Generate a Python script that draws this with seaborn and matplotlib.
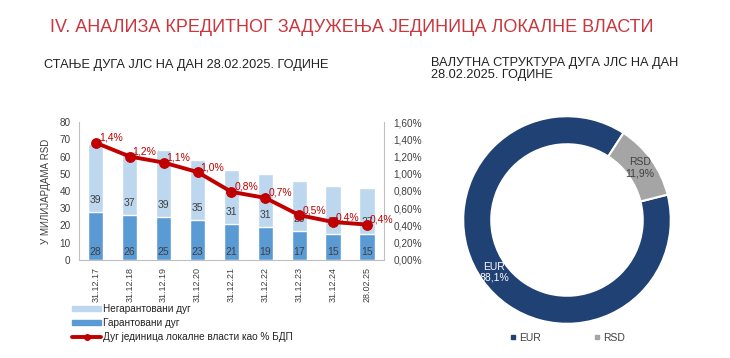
import numpy as np
import pandas as pd
import matplotlib
matplotlib.use("Agg")
import matplotlib.pyplot as plt
import seaborn as sns
from matplotlib.lines import Line2D
from matplotlib.patches import Patch

# podaci procitani sa grafika
dates = ["31.12.17", "31.12.18", "31.12.19", "31.12.20", "31.12.21",
         "31.12.22", "31.12.23", "31.12.24", "28.02.25"]
garant = [28, 26, 25, 23, 21, 19, 17, 15, 15]
negarant = [39, 37, 39, 35, 31, 31, 29, 28, 27]
dug_bdp = [1.36, 1.20, 1.13, 1.02, 0.79, 0.72, 0.52, 0.44, 0.41]

valute = ["EUR", "RSD"]
udeo = [88.1, 11.9]

light = "#BDD7EE"
dark = "#5B9BD5"
red = "#C00000"
navy = "#1F4173"
grey = "#A5A5A5"
txt = "#404040"

sns.set_theme(style="white")
plt.rcParams["font.family"] = ["Liberation Sans", "DejaVu Sans"]

df = pd.DataFrame({"datum": dates, "garant": garant, "negarant": negarant})
df["ukupno"] = df["garant"] + df["negarant"]

fig = plt.figure(figsize=(7.3, 3.58), dpi=100)

# naslovi
fig.text(50 / 730, 1 - 27 / 358, "IV. АНАЛИЗА КРЕДИТНОГ ЗАДУЖЕЊА ЈЕДИНИЦА ЛОКАЛНЕ ВЛАСТИ",
         color="#C9363E", fontsize=13, va="center")
fig.text(44 / 730, 1 - 65 / 358, "СТАЊЕ ДУГА ЈЛС НА ДАН 28.02.2025. ГОДИНЕ",
         color="#222222", fontsize=9.2, va="center")
fig.text(431 / 730, 1 - 69 / 358, "ВАЛУТНА СТРУКТУРА ДУГА ЈЛС НА ДАН\n28.02.2025. ГОДИНЕ",
         color="#222222", fontsize=9.2, va="center", linespacing=0.9)

# stubici
ax = fig.add_axes([0.108, 0.274, 0.418, 0.385])
sns.barplot(data=df, x="datum", y="ukupno", color=light, width=0.45,
            saturation=1, ax=ax)
sns.barplot(data=df, x="datum", y="garant", color=dark, width=0.45,
            saturation=1, ax=ax)

for i, (g, n) in enumerate(zip(garant, negarant)):
    ax.annotate(str(g), (i, 0), xytext=(0, 8), textcoords="offset pixels",
                ha="center", va="center", fontsize=7.5, color=txt)
    ax.annotate(str(n), (i, g), xytext=(0, 12), textcoords="offset pixels",
                ha="center", va="center", fontsize=7.5, color=txt)

ax.set_ylim(0, 80)
ax.set_yticks(range(0, 81, 10))
ax.set_xlabel("")
ax.set_ylabel("У МИЛИЈАРДАМА RSD", fontsize=7, color=txt, labelpad=6)
ax.tick_params(axis="y", labelsize=7.2, labelcolor=txt, length=0, pad=6)
ax.tick_params(axis="x", labelsize=6.5, labelcolor=txt, rotation=90, length=0, pad=5)
for s in ["top", "right"]:
    ax.spines[s].set_visible(False)
for s in ["left", "bottom"]:
    ax.spines[s].set_color("#BFBFBF")
    ax.spines[s].set_linewidth(0.8)

# linija % BDP
ax2 = ax.twinx()
sns.lineplot(x=np.arange(len(dates)), y=dug_bdp, ax=ax2, color=red, lw=2.8,
             marker="o", markersize=7, markeredgecolor=red)
for i, v in enumerate(dug_bdp):
    ax2.annotate(f"{v:.1f}%".replace(".", ","), (i, v), xytext=(3, 5),
                 textcoords="offset pixels", ha="left", va="center",
                 fontsize=7.5, color=red)
ax2.set_ylim(0, 1.6)
ax2.set_yticks(np.arange(0, 1.61, 0.2))
ax2.set_yticklabels([f"{t:.2f}%".replace(".", ",") for t in np.arange(0, 1.61, 0.2)])
ax2.tick_params(axis="y", labelsize=7.2, labelcolor=txt, length=0, pad=7)
ax2.set_ylabel("")
for s in ["top", "left", "bottom"]:
    ax2.spines[s].set_visible(False)
ax2.spines["right"].set_color("#BFBFBF")
ax2.spines["right"].set_linewidth(0.8)
ax.set_xlim(-0.5, len(dates) - 0.5)

fig.legend(handles=[Patch(color=light, label="Негарантовани дуг"),
                    Patch(color=dark, label="Гарантовани дуг"),
                    Line2D([], [], color=red, lw=2.8, marker="o", markersize=4,
                           label="Дуг јединица локалне власти као % БДП")],
           loc="upper left", bbox_to_anchor=(72 / 730, 1 - 304 / 358),
           frameon=False, fontsize=7.2, handlelength=2.9, handleheight=0.5,
           labelspacing=0.4, handletextpad=0.2, borderaxespad=0, borderpad=0,
           labelcolor="#222222")

# krofna - valutna struktura
ax3 = fig.add_axes([(567 - 110) / 730, 1 - (220 + 110) / 358, 220 / 730, 220 / 358])
wedges, _ = ax3.pie(udeo, colors=[navy, grey], startangle=57, radius=1,
                    wedgeprops=dict(width=0.27, edgecolor="white", linewidth=1.5))
for w, lab, val, col in zip(wedges, valute, udeo, ["white", txt]):
    ang = np.deg2rad((w.theta1 + w.theta2) / 2)
    r = 1 - 0.27 / 2
    ax3.text(r * np.cos(ang), r * np.sin(ang), f"{lab}\n{val:.1f}%".replace(".", ","),
             ha="center", va="center", fontsize=7.5, color=col, linespacing=1.1)
ax3.set_xlim(-1.06, 1.06)
ax3.set_ylim(-1.06, 1.06)
ax3.set_aspect("equal")
ax3.axis("off")

fig.legend(handles=[Line2D([], [], marker="s", ls="", color=c, markersize=3.5, label=l)
                    for c, l in zip([navy, grey], valute)],
           loc="center", bbox_to_anchor=(567 / 730, 1 - 338 / 358), ncol=2,
           frameon=False, fontsize=7.5, columnspacing=5, handletextpad=0.2,
           handlelength=0.8, labelcolor=txt)

fig.savefig("out.png", dpi=100, facecolor="white")
